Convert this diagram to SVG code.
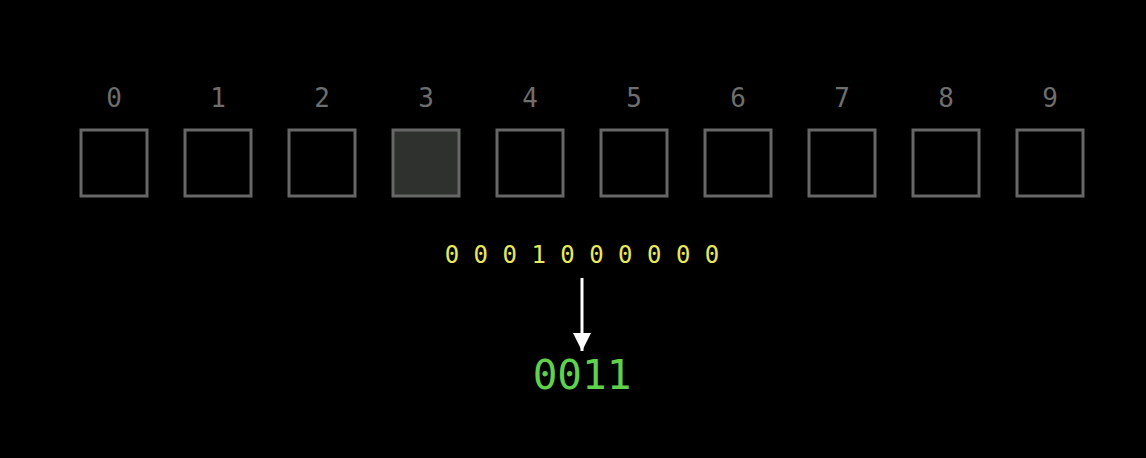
<svg xmlns="http://www.w3.org/2000/svg" width="1146" height="458" viewBox="0 0 1146 458">
<style>
.box{fill:#000;stroke:#676767;stroke-width:3}
.sel{fill:#2f312f}
.idx{font-family:"DejaVu Sans Mono",monospace;font-size:26px;fill:#6e6e6e;text-anchor:middle}
.bits{font-family:"DejaVu Sans Mono",monospace;font-size:24px;fill:#e8e85c;text-anchor:middle}
.out{font-family:"DejaVu Sans Mono",monospace;font-size:41px;fill:#5fd14d;text-anchor:middle}
</style>
<defs>
<marker id="ah" viewBox="0 0 10 10" refX="10" refY="5" markerWidth="18" markerHeight="18" markerUnits="userSpaceOnUse" orient="auto">
<path d="M0,0 L10,5 L0,10 Z" fill="#fff"/>
</marker>
</defs>
<rect width="1146" height="458" fill="#000"/>
<g id="slot0"><text class="idx" x="114" y="107">0</text><rect class="box" x="81" y="130" width="66" height="66"/></g>
<g id="slot1"><text class="idx" x="218" y="107">1</text><rect class="box" x="185" y="130" width="66" height="66"/></g>
<g id="slot2"><text class="idx" x="322" y="107">2</text><rect class="box" x="289" y="130" width="66" height="66"/></g>
<g id="slot3"><text class="idx" x="426" y="107">3</text><rect class="box sel" x="393" y="130" width="66" height="66"/></g>
<g id="slot4"><text class="idx" x="530" y="107">4</text><rect class="box" x="497" y="130" width="66" height="66"/></g>
<g id="slot5"><text class="idx" x="634" y="107">5</text><rect class="box" x="601" y="130" width="66" height="66"/></g>
<g id="slot6"><text class="idx" x="738" y="107">6</text><rect class="box" x="705" y="130" width="66" height="66"/></g>
<g id="slot7"><text class="idx" x="842" y="107">7</text><rect class="box" x="809" y="130" width="66" height="66"/></g>
<g id="slot8"><text class="idx" x="946" y="107">8</text><rect class="box" x="913" y="130" width="66" height="66"/></g>
<g id="slot9"><text class="idx" x="1050" y="107">9</text><rect class="box" x="1017" y="130" width="66" height="66"/></g>
<g id="bitvector"><text class="bits" x="582" y="263" xml:space="preserve">0 0 0 1 0 0 0 0 0 0</text></g>
<g id="connectors"><line x1="582" y1="278" x2="582" y2="351" stroke="#fff" stroke-width="3" marker-end="url(#ah)"/></g>
<g id="result"><text class="out" x="582" y="389">0011</text></g>
</svg>
